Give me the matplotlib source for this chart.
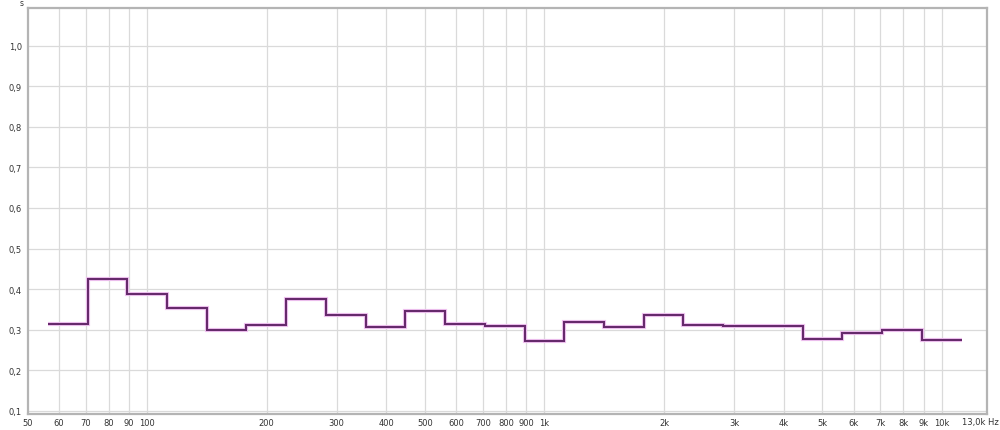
import numpy as np
import matplotlib
matplotlib.use("Agg")
import matplotlib.pyplot as plt
from matplotlib.ticker import FixedLocator, NullLocator

# 1/3-octave band centres (Hz, nominal) and RT values (s)
band_centres = [63, 80, 100, 125, 160, 200, 250, 315, 400, 500, 630, 800,
                1000, 1250, 1600, 2000, 2500, 3150, 4000, 5000, 6300, 8000, 10000]
rt_values = [0.315, 0.424, 0.388, 0.353, 0.298, 0.311, 0.376, 0.337, 0.306,
             0.346, 0.315, 0.309, 0.271, 0.320, 0.306, 0.337, 0.311, 0.310,
             0.309, 0.276, 0.292, 0.298, 0.274]

x_ticks = [50, 60, 70, 80, 90, 100, 200, 300, 400, 500, 600, 700, 800, 900,
           1000, 2000, 3000, 4000, 5000, 6000, 7000, 8000, 9000, 10000, 13000]
x_tick_labels = ["50", "60", "70", "80", "90", "100", "200", "300", "400", "500",
                 "600", "700", "800", "900", "1k", "2k", "3k", "4k", "5k", "6k",
                 "7k", "8k", "9k", "10k", ""]
x_end_label = "13,0k Hz"
y_ticks = [0.1, 0.2, 0.3, 0.4, 0.5, 0.6, 0.7, 0.8, 0.9, 1.0]
y_tick_labels = ["0,1", "0,2", "0,3", "0,4", "0,5", "0,6", "0,7", "0,8", "0,9", "1,0"]
y_unit = "s"

# band edges from exact base-ten third-octave centres
idx = np.round(10 * np.log10(np.array(band_centres) / 1000.0))
edges = 1000.0 * 10 ** (np.append(idx - 0.5, idx[-1] + 0.5) / 10.0)

W, H = 1000, 431
fig = plt.figure(figsize=(W / 100, H / 100), dpi=100)
fig.patch.set_facecolor("white")
ax = fig.add_axes([27.5 / W, 1 - 415 / H, (987 - 27.5) / W, (415 - 9) / H])
ax.set_xscale("log")
ax.set_xlim(50, 13000)
ax.set_ylim(0.092, 1.093)

ax.xaxis.set_major_locator(FixedLocator(x_ticks))
ax.xaxis.set_minor_locator(NullLocator())
ax.set_xticklabels(x_tick_labels)
ax.set_yticks(y_ticks)
ax.set_yticklabels(y_tick_labels)
ax.tick_params(axis="both", length=0, labelsize=6, colors="#333333")
ax.tick_params(axis="x", pad=3)
ax.tick_params(axis="y", pad=4)

for g in x_ticks[1:-1]:
    ax.axvline(g, color="#dadada", lw=0.9, zorder=0)
for g in y_ticks:
    ax.axhline(g, color="#dadada", lw=0.9, zorder=0)

for s in ax.spines.values():
    s.set_color("#b4b4b4")
    s.set_linewidth(1.6)

ax.stairs(rt_values, edges, color="#f2c4f2", lw=3.0, zorder=2, baseline=None)
ax.stairs(rt_values, edges, color="#662a6c", lw=1.5, zorder=3, baseline=None)

fig.text(22 / W, 1 - 4 / H, y_unit, fontsize=5.5, color="#333333", ha="center", va="center")
fig.text(980 / W, 1 - 423 / H, x_end_label, fontsize=6, color="#333333",
         ha="center", va="center")

fig.savefig("out.png", dpi=100, facecolor="white")
